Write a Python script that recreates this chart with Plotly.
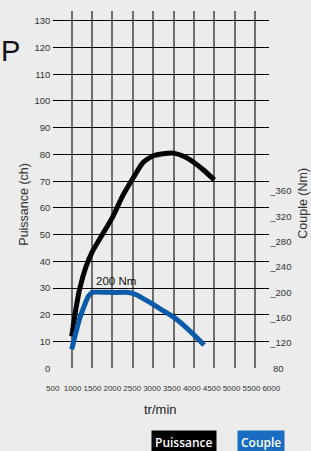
import plotly.graph_objects as go

# ---------------- data ----------------
rpm_power = [1000, 1100, 1200, 1350, 1500, 1750, 2000, 2250, 2500, 2750, 3000, 3250, 3500, 3750, 4000, 4250, 4500]
power_ch = [12, 22, 30, 38, 43.5, 50, 56.5, 64.5, 71, 77, 79.5, 80.3, 80.5, 79.3, 77, 74, 70.5]

rpm_torque = [1000, 1200, 1400, 1500, 2000, 2400, 2600, 3000, 3250, 3500, 3750, 4000, 4250]
torque_nm = [110, 160, 193, 200, 200, 200, 196, 181, 171, 161, 148, 133, 117]

rpm_grid = [1000, 1500, 2000, 2500, 3000, 3500, 4000, 4500, 5000, 5500]
rpm_labels = [500, 1000, 1500, 2000, 2500, 3000, 3500, 4000, 4500, 5000, 5500, 6000]
power_ticks = [0, 10, 20, 30, 40, 50, 60, 70, 80, 90, 100, 110, 120, 130]
torque_ticks = [80, 120, 160, 200, 240, 280, 320, 360]

W, H = 311, 451
FONT = "Liberation Sans, Arial, sans-serif"
BG = "#ececec"
BLACK = "#000000"
BLUE = "#0b5bab"
BLUE_BOX = "#1a6cc0"


def fx(p):
    return p / W


def fy(p):
    return 1 - p / H


fig = go.Figure()
fig.add_trace(go.Scatter(x=rpm_power, y=power_ch, mode="lines", name="Puissance",
                         line=dict(color=BLACK, width=5, shape="spline", smoothing=0.6),
                         xaxis="x", yaxis="y", showlegend=False))
fig.add_trace(go.Scatter(x=rpm_torque, y=torque_nm, mode="lines", name="Couple",
                         line=dict(color=BLUE, width=5, shape="spline", smoothing=0.4),
                         xaxis="x", yaxis="y2", showlegend=False))
# carrier for the rpm label axis (no visible marks)
fig.add_trace(go.Scatter(x=rpm_labels, y=[0.5] * len(rpm_labels), mode="markers",
                         marker=dict(size=1, opacity=0), hoverinfo="skip",
                         xaxis="x2", yaxis="y3", showlegend=False))

peak = max(torque_nm)
peak_rpms = [r for r, t in zip(rpm_torque, torque_nm) if t == peak]
peak_x = sum(peak_rpms) / len(peak_rpms)

fig.update_layout(
    width=W, height=H,
    margin=dict(l=0, r=0, t=0, b=0),
    paper_bgcolor=BG, plot_bgcolor=BG,
    font=dict(family=FONT, color="#333333"),
    xaxis=dict(domain=[fx(53.3), fx(269.3)], range=[548, 5850], anchor="y",
               tickmode="array", tickvals=rpm_grid, showticklabels=False,
               showgrid=True, gridcolor="#6e6e6e", gridwidth=2,
               zeroline=False, showline=False, ticks=""),
    yaxis=dict(domain=[fy(372.5), fy(11)], range=[0, 133.7], anchor="x",
               tickmode="array", tickvals=power_ticks,
               showgrid=True, gridcolor=BLACK, gridwidth=1.2,
               zeroline=False, showline=False, ticks="",
               tickfont=dict(size=9.5, color="#333333"), ticklabelstandoff=2),
    yaxis2=dict(overlaying="y", side="right", anchor="x", range=[80, 644.8],
                tickmode="array", tickvals=torque_ticks,
                ticktext=[("_" if v != 80 else " ") + str(v) for v in torque_ticks],
                showgrid=False, zeroline=False, showline=False, ticks="",
                tickfont=dict(size=9.5, color="#333333"), ticklabelstandoff=0),
    xaxis2=dict(domain=[fx(40), fx(285)], range=[180.5, 6344.7], anchor="y3",
                tickmode="array", tickvals=rpm_labels, tickangle=0,
                showgrid=False, zeroline=False, showline=False, ticks="",
                tickfont=dict(size=8, color="#333333")),
    yaxis3=dict(domain=[fy(386), fy(381)], anchor="x2", range=[0, 1],
                showgrid=False, zeroline=False, showline=False,
                showticklabels=False, ticks=""),
    annotations=[
        dict(text=f"{peak} Nm", xref="x", yref="y2", x=peak_x, y=peak,
             xanchor="center", yanchor="bottom", yshift=3, xshift=5, showarrow=False,
             font=dict(size=11.5, color="#111111", family=FONT)),
        dict(text="Puissance (ch)", xref="paper", yref="paper", x=fx(24.5), y=fy(206.5),
             xanchor="center", yanchor="middle",
             textangle=-90, showarrow=False, font=dict(size=12.5, color="#333333")),
        dict(text="Couple (Nm)", xref="paper", yref="paper", x=fx(303), y=fy(206),
             xanchor="center", yanchor="middle",
             textangle=-90, showarrow=False, font=dict(size=12.5, color="#333333")),
        dict(text="tr/min", xref="paper", yref="paper", x=fx(160), y=fy(414),
             xanchor="center", yanchor="middle",
             showarrow=False, font=dict(size=13, color="#222222")),
        dict(text="P", xref="paper", yref="paper", x=fx(-1), y=fy(33),
             xanchor="left", yanchor="top",
             showarrow=False, font=dict(size=29, color="#111111")),
        dict(text="Puissance", xref="paper", yref="paper", x=fx(184), y=fy(447),
             xanchor="center", yanchor="middle",
             showarrow=False, bgcolor="#000000", borderpad=3,
             font=dict(size=12, color="#ffffff", family="Open Sans", weight=600)),
        dict(text="Couple", xref="paper", yref="paper", x=fx(261), y=fy(447),
             xanchor="center", yanchor="middle",
             showarrow=False, bgcolor=BLUE_BOX, borderpad=3,
             font=dict(size=12, color="#ffffff", family="Open Sans", weight=600)),
    ],
)

fig.write_html(
    "out.html",
    config={"displayModeBar": False},
    post_script="document.body.style.margin='0';document.body.style.background='%s';" % BG,
)
